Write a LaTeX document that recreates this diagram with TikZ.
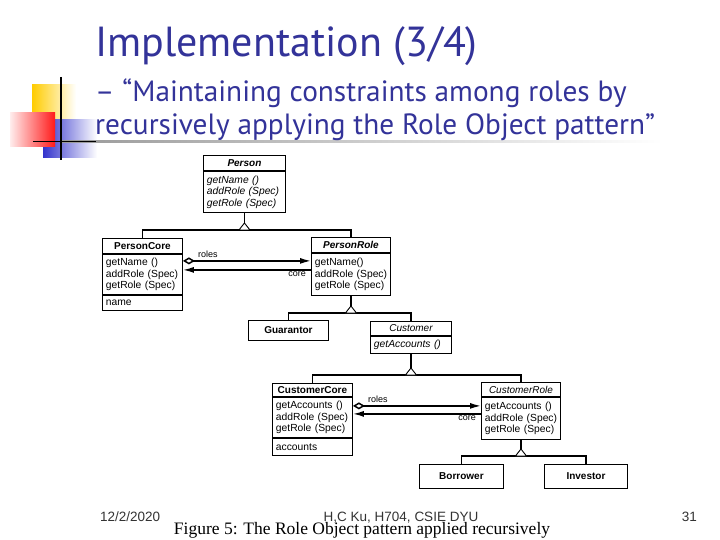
\documentclass[tikz,border=0pt]{standalone}
\usepackage{fontspec}
\setmainfont{Liberation Serif}
\newfontfamily\slidefont{PT Sans}
\newfontfamily\arialfont{Liberation Sans}
\usepackage{xcolor}
\definecolor{SlideNavy}{HTML}{333399}
\definecolor{FootGray}{HTML}{333333}
\definecolor{SqYellow}{HTML}{FFCC00}
\definecolor{SqRed}{HTML}{FF1A1A}
\definecolor{SqBlue}{HTML}{3333CC}
\usepackage{tikz}
\usetikzlibrary{positioning,calc,arrows.meta}
\newcommand{\umlsz}{\arialfont\fontsize{10}{11.5}\selectfont}
\newcommand{\opsz}{\arialfont\fontsize{10.3}{11.5}\selectfont}
\tikzset{
  cls/.style={draw,line width=0.9pt,fill=white,inner sep=0pt,anchor=north west,
    font=\umlsz\bfseries},
  clsa/.style={cls,font=\umlsz\bfseries\itshape},
  clsi/.style={cls,font=\umlsz\itshape},
  ops/.style={draw,line width=0.9pt,fill=white,inner xsep=3.5pt,inner ysep=1pt,
    anchor=north west,align=left,font=\opsz},
  opsi/.style={ops,font=\opsz\itshape},
  sep/.style={line width=1.6pt},
  gen/.style={line width=1.5pt},
  asc/.style={line width=1.5pt},
  rl/.style={font=\arialfont\fontsize{9}{9}\selectfont,inner sep=0pt},
  ttl/.style={anchor=base west,inner sep=0pt,text=SlideNavy},
  foot/.style={font=\arialfont\fontsize{13.5}{14}\selectfont,text=FootGray,inner sep=0pt},
  figcap/.style={font=\fontsize{17.5}{18}\selectfont,inner sep=0pt},
  rule/.style={line width=1.5pt},
  isa/.pic={\draw[line width=0.9pt,fill=white] (-5.5,0) -- (0,-7) -- (5.5,0) -- cycle;},
}

\begin{document}
\begin{tikzpicture}[x=1pt,y=-1pt]
\fill[white] (0,0) rectangle (720,540);
\useasboundingbox (0,0) rectangle (720,540);

\shade[left color=SqYellow,middle color=SqYellow!75,right color=white] (32,85) rectangle (76,120);
\shade[left color=SqBlue,middle color=SqBlue!75,right color=white] (43,120) rectangle (97,158);
\shade[left color=SqRed!8,right color=SqRed] (10,113) rectangle (55,147);
\shade[left color=gray!80,right color=white] (60,140.5) rectangle (662,142.5);
\draw[rule] (61,77) -- (61,160);
\draw[rule] (33,141.5) -- (96,141.5);

\node[ttl,font=\slidefont\fontsize{42}{42}\selectfont] (t1) at (95,57) {Implementation (3/4)};
\node[ttl,font=\slidefont\fontsize{29.3}{29.3}\selectfont] (t2) at (95,102)
  {– “Maintaining constraints among roles by};
\node[ttl,font=\slidefont\fontsize{29.3}{29.3}\selectfont] (t3) at (95,135)
  {recursively applying the Role Object pattern”};

\node[clsa,minimum width=82pt,minimum height=15pt] (pn) at (203,155) {Person};
\node[opsi,text width=75pt,minimum height=41pt] (po) at (pn.south west)
  {getName~()\\addRole~(Spec)\\getRole~(Spec)};

\node[cls,minimum width=80pt,minimum height=15pt] (pcn) at (102,238) {PersonCore};
\node[ops,text width=73pt,minimum height=40pt] (pco) at (pcn.south west)
  {getName~()\\addRole~(Spec)\\getRole~(Spec)};
\node[ops,text width=73pt,minimum height=15pt] (pca) at (pco.south west) {name};

\node[clsa,minimum width=79pt,minimum height=15pt] (prn) at (311,237) {PersonRole};
\node[ops,text width=72pt,minimum height=42pt] (pro) at (prn.south west)
  {getName()\\addRole~(Spec)\\getRole~(Spec)};

\node[cls,minimum width=80pt,minimum height=20pt] (gu) at (248,320) {Guarantor};
\node[clsi,minimum width=81pt,minimum height=14pt] (cun) at (370,321) {Customer};
\node[opsi,text width=74pt,minimum height=17pt] (cuo) at (cun.south west) {getAccounts~()};

\node[cls,minimum width=80pt,minimum height=13pt] (ccn) at (272,383) {CustomerCore};
\node[ops,text width=73pt,minimum height=40pt] (cco) at (ccn.south west)
  {getAccounts~()\\addRole~(Spec)\\getRole~(Spec)};
\node[ops,text width=73pt,minimum height=17pt] (cca) at (cco.south west) {accounts};

\node[clsi,minimum width=79pt,minimum height=14pt] (crn) at (481,382) {CustomerRole};
\node[ops,text width=72pt,minimum height=42pt] (cro) at (crn.south west)
  {getAccounts~()\\addRole~(Spec)\\getRole~(Spec)};

\node[cls,minimum width=84pt,minimum height=24pt] (bo) at (419,464) {Borrower};
\node[cls,minimum width=83pt,minimum height=24pt] (iv) at (544,464) {Investor};

\foreach \n in {pn,pcn,prn,cun,ccn,crn,pco,cco}
  \draw[sep] (\n.south west) -- (\n.south east);

\coordinate (g1) at (po.south |- 0,230);
\coordinate (g2) at (pro.south |- 0,313);
\coordinate (g3) at (cuo.south |- 0,375);
\coordinate (g4) at (cro.south |- 0,456);
\draw[gen] (pcn.north) |- (g1) -| (prn.north);
\draw[gen] (gu.north) |- (g2) -| (cun.north);
\draw[gen] (ccn.north) |- (g3) -| (crn.north);
\draw[gen] (bo.north) |- (g4) -| (iv.north);
\draw[gen] (po.south) -- (g1);
\draw[gen] (pro.south) -- (g2);
\draw[gen] (cuo.south) -- (g3);
\draw[gen] (cro.south) -- (g4);
\foreach \g in {g1,g2,g3,g4} \pic at (\g) {isa};

\coordinate (r1) at ([yshift=-7pt]pco.north east);
\coordinate (r2) at ([yshift=-16pt]pco.north east);
\coordinate (c1) at (r2 -| pro.west);
\draw[asc,{Diamond[open,length=12pt,width=7pt]}-{Latex[length=11pt,width=6pt]}] (r1) -- (r1 -| pro.west);
\draw[asc,-{Latex[length=11pt,width=6pt]}] (c1) -- (r2);
\node[rl,anchor=base west] (rl1) at ([xshift=15pt,yshift=3pt]r1) {roles};
\node[rl,anchor=north east] (co1) at ([xshift=-5pt,yshift=-2pt]c1) {core};

\coordinate (r3) at ([yshift=-9pt]cco.north east);
\coordinate (r4) at ([yshift=-17pt]cco.north east);
\coordinate (c2) at (r4 -| cro.west);
\draw[asc,{Diamond[open,length=12pt,width=7pt]}-{Latex[length=11pt,width=6pt]}] (r3) -- (r3 -| cro.west);
\draw[asc,-{Latex[length=11pt,width=6pt]}] (c2) -- (r4);
\node[rl,anchor=base west] (rl2) at ([xshift=15pt,yshift=3pt]r3) {roles};
\node[rl,anchor=north east] (co2) at ([xshift=-5pt,yshift=-2pt]c2) {core};

\node[figcap,anchor=base] (fig) at (362,534) {Figure 5: The Role Object pattern applied recursively};
\node[foot,anchor=base west] (dt) at (100,521) {12/2/2020};
\node[foot,anchor=base] (au) at (401,521) {H,C Ku, H704, CSIE DYU};
\node[foot,anchor=base east] (pg) at (697,521) {31};
\end{tikzpicture}
\end{document}
